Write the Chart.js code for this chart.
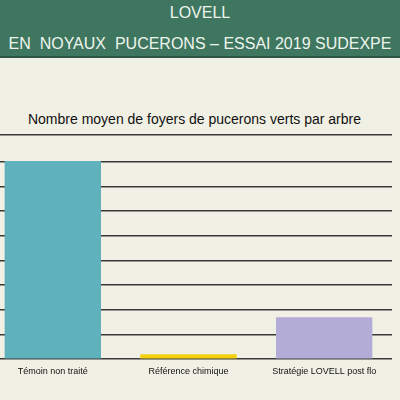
<!DOCTYPE html>
<html>
<head>
<meta charset="utf-8">
<script src="https://cdn.jsdelivr.net/npm/chart.js@4"></script>
<style>
  html, body { margin:0; padding:0; width:400px; height:400px; overflow:hidden; background:#f1f0e4; }
  .head { position:absolute; left:0; top:0; width:400px; height:56px; background:#3f7660; border-bottom:2px solid #2c5443;
          color:#eef5ec; font-family:"Liberation Sans", Arial, sans-serif; font-size:16px; text-align:center; }
  .head div { position:absolute; left:0; width:400px; white-space:pre; }
  .title { position:absolute; left:0; top:111px; width:389px; text-align:center; color:#111;
           font-family:"Liberation Sans", Arial, sans-serif; font-size:14px; }
  .wrap { position:absolute; left:-15px; top:58px; width:407px; height:342px; }
</style>
</head>
<body>
<div class="head">
  <div style="top:4px">LOVELL</div>
  <div style="top:35px">EN  NOYAUX  PUCERONS – ESSAI 2019 SUDEXPE</div>
</div>
<div class="title">Nombre moyen de foyers de pucerons verts par arbre</div>
<div class="wrap"><canvas id="myChart"></canvas></div>
<script>
const labels = ['Témoin non traité', 'Référence chimique', 'Stratégie LOVELL post flo'];
const values = [8.03, 0.2, 1.7];
const colors = ['#5fb1bc', '#f2d00c', '#b3acd6'];

const data = {
  labels: labels,
  datasets: [{
    data: values,
    backgroundColor: colors,
    borderWidth: 0,
    categoryPercentage: 1,
    barPercentage: 0.71
  }]
};

const config = {
  type: 'bar',
  data: data,
  options: {
    responsive: true,
    maintainAspectRatio: false,
    animation: false,
    layout: {
      padding: { top: 76.5, right: 0, bottom: 16, left: 0 }
    },
    scales: {
      x: {
        grid: { display: false, drawTicks: false },
        border: { display: false },
        ticks: {
          color: '#111',
          padding: 7,
          maxRotation: 0,
          font: { family: 'Liberation Sans', size: 9 }
        }
      },
      y: {
        min: 0,
        max: 9.1,
        ticks: { display: false, stepSize: 1 },
        grid: { color: '#3a3a3a', lineWidth: 1.5, drawTicks: false },
        border: { display: false }
      }
    },
    plugins: {
      legend: { display: false },
      tooltip: { enabled: false }
    }
  }
};

const myChart = new Chart(document.getElementById('myChart'), config);
</script>
</body>
</html>
